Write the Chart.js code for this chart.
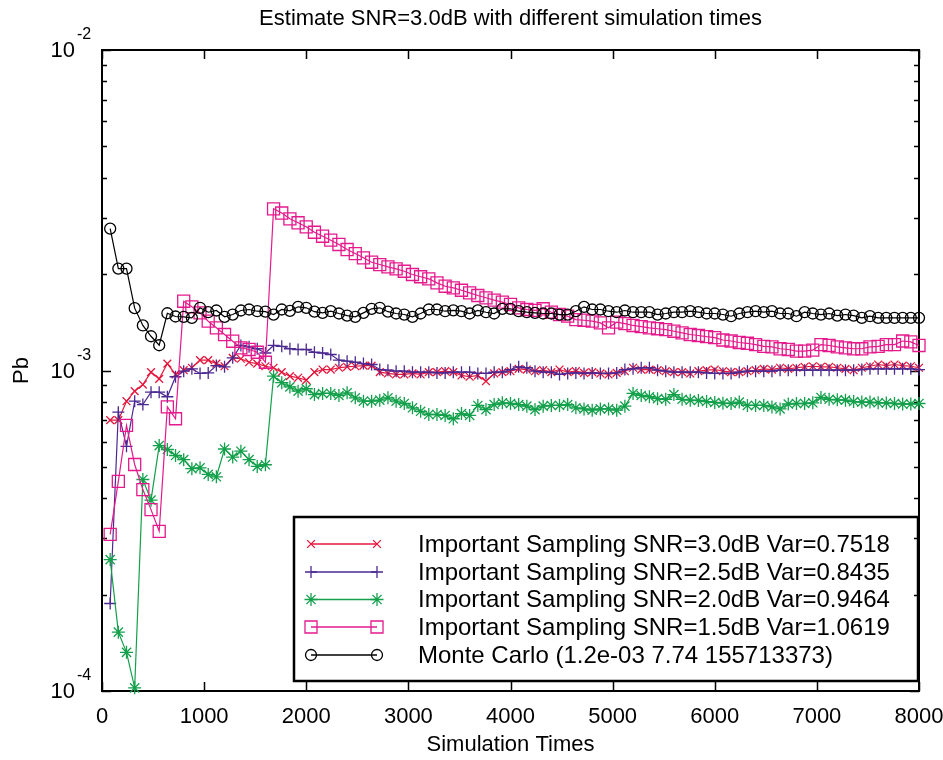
<!DOCTYPE html>
<html>
<head>
<meta charset="utf-8">
<title>Estimate SNR=3.0dB with different simulation times</title>
<script src="https://cdn.jsdelivr.net/npm/chart.js@4.4.1/dist/chart.umd.min.js"></script>
<style>
	body { margin: 0; background: #fff; }
	#myChart { display: block; }
</style>
</head>
<body>
<canvas id="myChart" width="943" height="760"></canvas>
<script>
// simulation times (x)
var simTimes = [
	80, 160, 240, 320, 400, 480, 560, 640, 720, 800,
	880, 960, 1040, 1120, 1200, 1280, 1360, 1440, 1520, 1600,
	1680, 1760, 1840, 1920, 2000, 2080, 2160, 2240, 2320, 2400,
	2480, 2560, 2640, 2720, 2800, 2880, 2960, 3040, 3120, 3200,
	3280, 3360, 3440, 3520, 3600, 3680, 3760, 3840, 3920, 4000,
	4080, 4160, 4240, 4320, 4400, 4480, 4560, 4640, 4720, 4800,
	4880, 4960, 5040, 5120, 5200, 5280, 5360, 5440, 5520, 5600,
	5680, 5760, 5840, 5920, 6000, 6080, 6160, 6240, 6320, 6400,
	6480, 6560, 6640, 6720, 6800, 6880, 6960, 7040, 7120, 7200,
	7280, 7360, 7440, 7520, 7600, 7680, 7760, 7840, 7920, 8000
];

// Pb values, in units of 1e-3
var snr30 = [
	0.70, 0.70, 0.802, 0.862, 0.904, 0.988, 0.942, 1.051, 0.972, 1.002,
	1.02, 1.077, 1.077, 1.051, 1.031, 1.095, 1.088, 1.061, 1.051, 1.031,
	1.02, 0.988, 0.96, 0.949, 0.933, 0.988, 1.007, 1.007, 1.02, 1.027,
	1.031, 1.036, 1.036, 0.988, 0.979, 0.972, 0.972, 0.979, 0.972, 0.988,
	0.988, 0.995, 0.988, 0.965, 0.956, 0.965, 0.926, 0.979, 0.988, 0.995,
	1.012, 1.007, 0.995, 1.002, 0.988, 1.007, 0.988, 0.995, 0.983, 0.988,
	0.979, 0.972, 0.983, 0.995, 1.02, 1.007, 1.007, 1.002, 0.995, 0.988,
	0.988, 0.979, 0.995, 1.002, 1.007, 0.995, 0.988, 0.988, 0.995, 1.002,
	1.012, 1.007, 1.02, 1.012, 1.02, 1.027, 1.031, 1.027, 1.027, 1.02,
	1.012, 1.002, 1.02, 1.031, 1.044, 1.036, 1.044, 1.036, 1.031, 1.02
];
var snr25 = [
	0.1875, 0.741, 0.58, 0.802, 0.783, 0.856, 0.856, 0.828, 0.956, 0.995,
	1.012, 0.979, 0.983, 1.036, 1.027, 1.095, 1.197, 1.185, 1.169, 1.134,
	1.197, 1.19, 1.169, 1.163, 1.163, 1.14, 1.134, 1.122, 1.077, 1.069,
	1.061, 1.051, 1.044, 1.007, 1.002, 0.995, 0.995, 0.988, 0.988, 0.988,
	0.983, 0.983, 0.988, 0.988, 0.988, 0.979, 0.979, 0.988, 0.988, 1.007,
	1.027, 1.02, 0.995, 0.988, 0.988, 0.972, 0.979, 0.983, 0.979, 0.983,
	0.979, 0.979, 0.983, 1.007, 1.012, 1.02, 1.02, 1.002, 0.995, 0.988,
	0.988, 0.988, 0.988, 0.983, 0.979, 0.979, 0.979, 0.988, 0.995, 0.995,
	0.995, 0.995, 1.002, 1.002, 1.002, 1.002, 1.002, 1.002, 1.002, 1.002,
	1.002, 1.002, 1.007, 1.012, 1.012, 1.012, 1.012, 1.012, 1.012, 1.007
];
var snr20 = [
	0.257, 0.1526, 0.132, 0.1023, 0.457, 0.394, 0.583, 0.567, 0.543, 0.527,
	0.494, 0.497, 0.474, 0.466, 0.569, 0.537, 0.56, 0.527, 0.502, 0.508,
	0.96, 0.916, 0.889, 0.862, 0.877, 0.841, 0.848, 0.848, 0.836, 0.852,
	0.822, 0.802, 0.802, 0.808, 0.822, 0.802, 0.789, 0.765, 0.746, 0.729,
	0.729, 0.724, 0.707, 0.734, 0.724, 0.778, 0.755, 0.783, 0.793, 0.789,
	0.783, 0.774, 0.755, 0.774, 0.778, 0.778, 0.783, 0.765, 0.759, 0.752,
	0.759, 0.759, 0.752, 0.774, 0.848, 0.836, 0.828, 0.817, 0.813, 0.841,
	0.813, 0.808, 0.806, 0.80, 0.795, 0.791, 0.789, 0.797, 0.778, 0.778,
	0.778, 0.77, 0.759, 0.786, 0.789, 0.789, 0.793, 0.824, 0.813, 0.81,
	0.808, 0.80, 0.797, 0.797, 0.793, 0.792, 0.789, 0.786, 0.786, 0.789
];
var snr15 = [
	0.308, 0.451, 0.674, 0.509, 0.425, 0.368, 0.315, 0.770, 0.707, 1.645,
	1.58, 1.513, 1.425, 1.359, 1.295, 1.234, 1.177, 1.163, 1.14, 1.061,
	3.195, 3.10, 2.974, 2.89, 2.808, 2.70, 2.624, 2.55, 2.473, 2.385,
	2.317, 2.247, 2.177, 2.141, 2.106, 2.076, 2.04, 1.993, 1.961, 1.932,
	1.877, 1.832, 1.811, 1.78, 1.747, 1.714, 1.686, 1.658, 1.634, 1.607,
	1.569, 1.55, 1.54, 1.558, 1.52, 1.495, 1.477, 1.442, 1.435, 1.425,
	1.408, 1.359, 1.415, 1.40, 1.382, 1.37, 1.359, 1.35, 1.342, 1.326,
	1.31, 1.295, 1.286, 1.275, 1.266, 1.245, 1.236, 1.223, 1.216, 1.205,
	1.19, 1.185, 1.169, 1.163, 1.149, 1.149, 1.157, 1.205, 1.197, 1.185,
	1.177, 1.169, 1.169, 1.185, 1.19, 1.205, 1.205, 1.236, 1.228, 1.197
];
var monteCarlo = [
	2.77, 2.08, 2.08, 1.565, 1.382, 1.279, 1.199, 1.509, 1.474, 1.471,
	1.46, 1.569, 1.52, 1.539, 1.471, 1.495, 1.539, 1.55, 1.531, 1.526,
	1.495, 1.55, 1.535, 1.58, 1.569, 1.526, 1.513, 1.531, 1.506, 1.484,
	1.471, 1.513, 1.558, 1.569, 1.526, 1.506, 1.495, 1.471, 1.506, 1.55,
	1.55, 1.531, 1.54, 1.531, 1.506, 1.54, 1.52, 1.506, 1.558, 1.558,
	1.531, 1.52, 1.513, 1.506, 1.506, 1.495, 1.495, 1.531, 1.58, 1.55,
	1.55, 1.531, 1.52, 1.539, 1.52, 1.52, 1.52, 1.495, 1.506, 1.52,
	1.52, 1.531, 1.52, 1.506, 1.506, 1.495, 1.477, 1.506, 1.52, 1.531,
	1.52, 1.531, 1.506, 1.506, 1.477, 1.52, 1.506, 1.495, 1.506, 1.484,
	1.495, 1.484, 1.46, 1.477, 1.46, 1.46, 1.46, 1.46, 1.46, 1.46
];

var xTicks = [0, 1000, 2000, 3000, 4000, 5000, 6000, 7000, 8000];
var yDecades = [1e-4, 1e-3, 1e-2];
var yDecadeExp = ['-4', '-3', '-2'];

var seriesLabels = [
	'Important Sampling SNR=3.0dB Var=0.7518',
	'Important Sampling SNR=2.5dB Var=0.8435',
	'Important Sampling SNR=2.0dB Var=0.9464',
	'Important Sampling SNR=1.5dB Var=1.0619',
	'Monte Carlo (1.2e-03 7.74 155713373)'
];
var seriesColors = ['#e4163c', '#4b2991', '#13a04b', '#e5198c', '#000000'];
var seriesStyles = ['crossRot', 'cross', 'star', 'rect', 'circle'];
var seriesRadius = [5.5, 6, 6.5, 8.5, 5.5];

var FONT = '"Liberation Sans", Arial, Helvetica, sans-serif';

function toPoints(values)
{
	var pts = [];
	for (var i = 0; i < simTimes.length; i++)
	{
		pts.push({ x: simTimes[i], y: values[i] * 1e-3 });
	}
	return pts;
}

// same marker shapes as chart.js, used for the legend
function drawMark(ctx, style, x, y, r)
{
	var d;
	ctx.beginPath();
	if (style === 'circle')
	{
		ctx.arc(x, y, r, 0, Math.PI * 2);
	}
	else if (style === 'rect')
	{
		d = r * Math.SQRT1_2;
		ctx.rect(x - d, y - d, 2 * d, 2 * d);
	}
	else
	{
		if (style === 'cross' || style === 'star')
		{
			ctx.moveTo(x - r, y); ctx.lineTo(x + r, y);
			ctx.moveTo(x, y - r); ctx.lineTo(x, y + r);
		}
		if (style === 'crossRot' || style === 'star')
		{
			d = r * Math.SQRT1_2;
			ctx.moveTo(x - d, y - d); ctx.lineTo(x + d, y + d);
			ctx.moveTo(x - d, y + d); ctx.lineTo(x + d, y - d);
		}
	}
	ctx.stroke();
}

var gnuplotFrame = {
	id: 'gnuplotFrame',
	beforeDatasetsDraw: function (chart)
	{
		var ctx = chart.ctx;
		var a = chart.chartArea;
		var xs = chart.scales.x;
		var ys = chart.scales.y;
		var i, k, px, py, len;

		ctx.save();
		ctx.strokeStyle = '#000';
		ctx.lineWidth = 1.5;
		ctx.beginPath();
		// x ticks, bottom and top, pointing in
		for (i = 0; i < xTicks.length; i++)
		{
			px = Math.round(xs.getPixelForValue(xTicks[i])) + 0.5;
			ctx.moveTo(px, a.bottom); ctx.lineTo(px, a.bottom - 9);
			ctx.moveTo(px, a.top); ctx.lineTo(px, a.top + 9);
		}
		// y log ticks, left and right
		for (i = 0; i < yDecades.length; i++)
		{
			for (k = 1; k <= 9; k++)
			{
				if (i === yDecades.length - 1 && k > 1) break;
				py = Math.round(ys.getPixelForValue(yDecades[i] * k)) + 0.5;
				len = (k === 1) ? 9 : 5;
				ctx.moveTo(a.left, py); ctx.lineTo(a.left + len, py);
				ctx.moveTo(a.right, py); ctx.lineTo(a.right - len, py);
			}
		}
		ctx.stroke();

		ctx.lineWidth = 2;
		ctx.strokeRect(a.left, a.top, a.right - a.left, a.bottom - a.top);

		// y tick labels 10^n
		ctx.fillStyle = '#000';
		for (i = 0; i < yDecades.length; i++)
		{
			py = ys.getPixelForValue(yDecades[i]);
			ctx.font = '22px ' + FONT;
			ctx.textAlign = 'right';
			ctx.textBaseline = 'middle';
			ctx.fillText('10', 75, py + 1);
			ctx.font = '16px ' + FONT;
			ctx.textAlign = 'left';
			ctx.fillText(yDecadeExp[i], 77, py - 15);
		}

		// title
		ctx.font = '22px ' + FONT;
		ctx.textAlign = 'center';
		ctx.textBaseline = 'middle';
		ctx.fillText('Estimate SNR=3.0dB with different simulation times', (a.left + a.right) / 2, 19);
		ctx.restore();
	},
	afterDraw: function (chart)
	{
		var ctx = chart.ctx;
		var rows = [544, 572, 599.5, 627, 655];
		ctx.save();
		ctx.strokeStyle = '#000';
		ctx.lineWidth = 2.5;
		ctx.strokeRect(294, 517, 624, 164);

		for (var i = 0; i < seriesLabels.length; i++)
		{
			var y = rows[i];
			ctx.strokeStyle = seriesColors[i];
			ctx.lineWidth = 1.3;
			ctx.beginPath();
			ctx.moveTo(311, y); ctx.lineTo(377, y);
			ctx.stroke();
			drawMark(ctx, seriesStyles[i], 311, y, seriesRadius[i]);
			drawMark(ctx, seriesStyles[i], 377, y, seriesRadius[i]);

			ctx.fillStyle = '#000';
			ctx.font = '24px ' + FONT;
			ctx.textAlign = 'left';
			ctx.textBaseline = 'middle';
			ctx.fillText(seriesLabels[i], 418, y + 1);
		}
		ctx.restore();
	}
};

var allSeries = [snr30, snr25, snr20, snr15, monteCarlo];
var datasets = [];
for (var s = 0; s < allSeries.length; s++)
{
	datasets.push({
		label: seriesLabels[s],
		data: toPoints(allSeries[s]),
		borderColor: seriesColors[s],
		backgroundColor: 'transparent',
		borderWidth: 1.2,
		pointStyle: seriesStyles[s],
		pointRadius: seriesRadius[s],
		pointBorderColor: seriesColors[s],
		pointBackgroundColor: 'transparent',
		pointBorderWidth: 1.3,
		tension: 0,
		fill: false,
		clip: false,
		order: allSeries.length - s
	});
}

var ctx = document.getElementById('myChart');
var myChart = new Chart(ctx, {
	type: 'line',
	data: { datasets: datasets },
	options:
	{
		responsive: false,
		animation: false,
		events: [],
		layout: { padding: { top: 50, right: 24, left: 0, bottom: 0 } },
		plugins:
		{
			legend: { display: false },
			title: { display: false },
			tooltip: { enabled: false }
		},
		scales:
		{
			x:
			{
				type: 'linear',
				min: 0,
				max: 8000,
				afterBuildTicks: function (scale)
				{
					scale.ticks = xTicks.map(function (v) { return { value: v }; });
				},
				ticks:
				{
					color: '#000',
					font: { family: FONT, size: 22 },
					padding: 13,
					maxRotation: 0,
					autoSkip: false,
					callback: function (v) { return String(v); }
				},
				grid: { display: false, drawTicks: false },
				border: { display: false },
				title: { display: true, text: 'Simulation Times', color: '#000', font: { family: FONT, size: 22 }, padding: { top: 0, bottom: 2 } },
				afterFit: function (scale)
				{
					scale.height = 69;
					scale.paddingLeft = 0;
					scale.paddingRight = 0;
				}
			},
			y:
			{
				type: 'logarithmic',
				min: 1e-4,
				max: 1e-2,
				ticks: { display: false },
				grid: { display: false, drawTicks: false },
				border: { display: false },
				title: { display: true, text: 'Pb', color: '#000', font: { family: FONT, size: 22 }, padding: { top: 9, bottom: 0 } },
				afterFit: function (scale)
				{
					scale.width = 102;
					scale.paddingTop = 0;
					scale.paddingBottom = 0;
				}
			}
		}
	},
	plugins: [gnuplotFrame]
});
</script>
</body>
</html>
